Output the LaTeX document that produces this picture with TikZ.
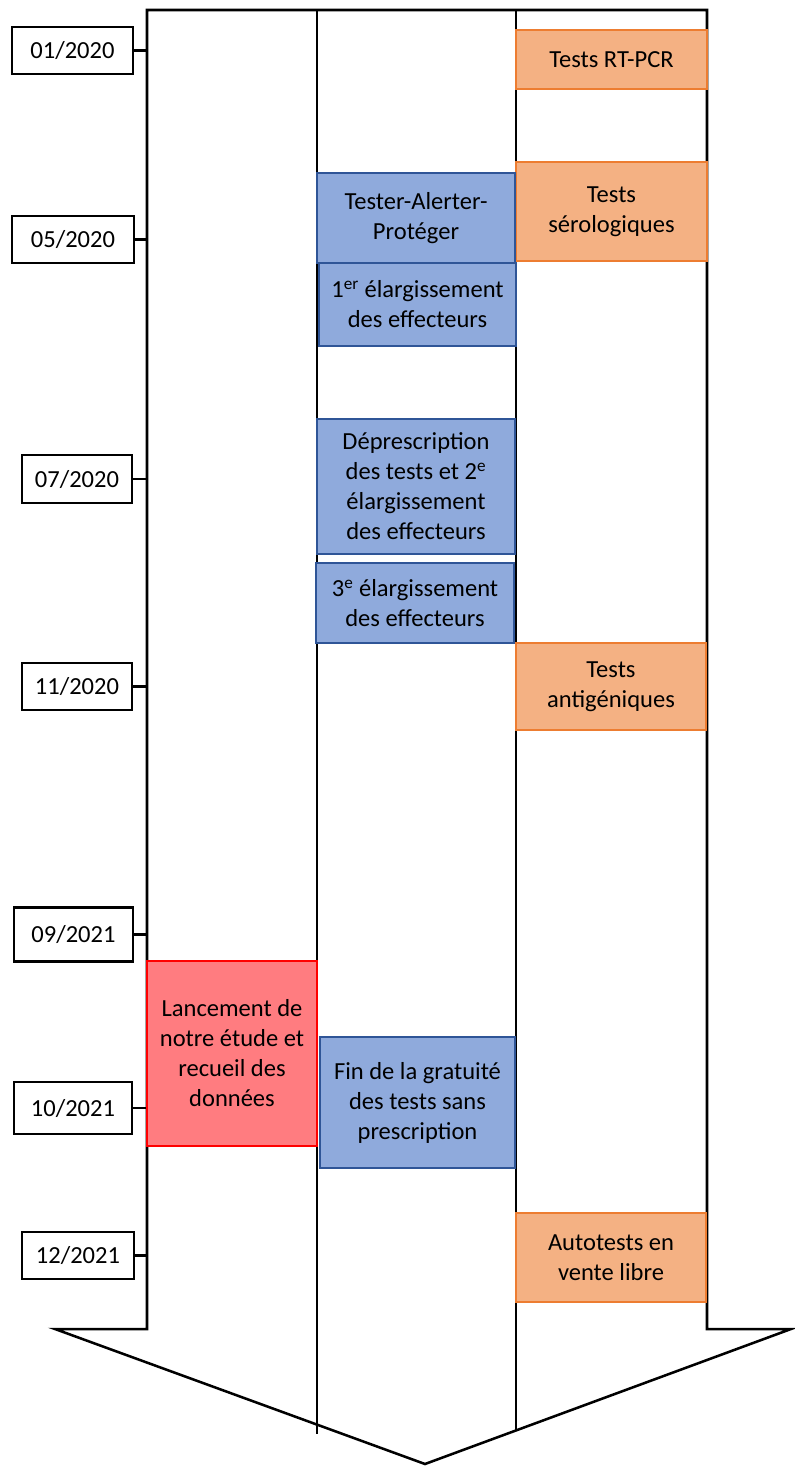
\documentclass[tikz,border=0pt]{standalone}
\usepackage{fontspec}
\setmainfont{Carlito}
\usetikzlibrary{positioning}
\usepackage{xcolor}
\definecolor{ink}{RGB}{0,0,0}
\definecolor{bluefill}{RGB}{143,170,220}
\definecolor{blueline}{RGB}{47,85,151}
\definecolor{orangefill}{RGB}{244,177,131}
\definecolor{orangeline}{RGB}{237,125,49}
\definecolor{redfill}{RGB}{255,124,128}
\definecolor{redline}{RGB}{255,0,0}

\begin{document}
\begin{tikzpicture}[
  x=0.75pt, y=-0.75pt,
  every node/.style={font=\fontsize{18.4}{22.5}\selectfont, align=center, inner sep=0pt},
  box/.style 2 args={minimum width=#1*0.75pt, minimum height=#2*0.75pt, line width=1.8pt},
  datebox/.style={draw=ink, fill=white, line width=1.8pt},
  serobox/.style={draw=orangeline, fill=orangefill},
  rulebox/.style={draw=blueline, fill=bluefill},
  studybox/.style={draw=redline, fill=redfill},
  tick/.style={line width=1.8pt, draw=ink}
]
  \useasboundingbox (0,0) rectangle (794,1467);

  % the big arrow and its three lanes
  \draw[ink, line width=1.9pt, line join=miter]
    (147,10) -- (707,10) -- (707,1329) -- (791,1329) -- (425,1464)
    -- (55,1329) -- (147,1329) -- cycle;
  \draw[ink, line width=1.5pt] (317,10) -- (317,1434);
  \draw[ink, line width=1.5pt] (516,10) -- (516,1431);
  \coordinate (lane) at (147,0);

  % dates on the left
  \node[datebox, box={121}{47}] (d0120) at (72.5,50.5)   {01/2020};
  \node[datebox, box={122}{47}] (d0520) at (73,239.5)    {05/2020};
  \node[datebox, box={110}{48}] (d0720) at (77,479)      {07/2020};
  \node[datebox, box={110}{47}] (d1120) at (77,686.5)    {11/2020};
  \node[datebox, box={119}{54}] (d0921) at (73.5,934.5)  {09/2021};
  \node[datebox, box={118}{52}] (d1021) at (73,1108)     {10/2021};
  \node[datebox, box={112}{47}] (d1221) at (78,1255.5)   {12/2021};

  \foreach \d in {d0120,d0520,d0720,d1120,d0921,d1021,d1221}
    \draw[tick] (\d.east) -- (\d.east -| lane);

  % test types (right lane)
  \node[serobox, box={191}{59}] (pcr)  at (611.5,59.5)  {Tests RT-PCR};
  \node[serobox, box={191}{99}] (sero) at (611.5,211.5) {Tests\\sérologiques};
  \node[serobox, box={190}{87}] (anti) at (611,686.5)   {Tests\\antigéniques};
  \node[serobox, box={190}{89}] (auto) at (611,1257.5)  {Autotests en\\vente libre};

  % measures (middle lane)
  \node[rulebox, box={198}{90}]  (tap)    at (416,218)     {Tester-Alerter-\\Protéger};
  \node[rulebox, box={197}{83}]  (elarg1) at (417.5,304.5) {1\textsuperscript{er} élargissement\\des effecteurs};
  \node[rulebox, box={198}{135}] (depres) at (416,486.5)   {Déprescription\\des tests et 2\textsuperscript{e}\\élargissement\\des effecteurs};
  \node[rulebox, box={198}{80}]  (elarg3) at (415,603)     {3\textsuperscript{e} élargissement\\des effecteurs};
  \node[rulebox, box={195}{131}] (fin)    at (417.5,1102.5) {Fin de la gratuité\\des tests sans\\prescription};

  % our study (left lane)
  \node[studybox, box={170}{185}] (etude) at (232,1053.5) {Lancement de\\notre étude et\\recueil des\\données};
\end{tikzpicture}
\end{document}
